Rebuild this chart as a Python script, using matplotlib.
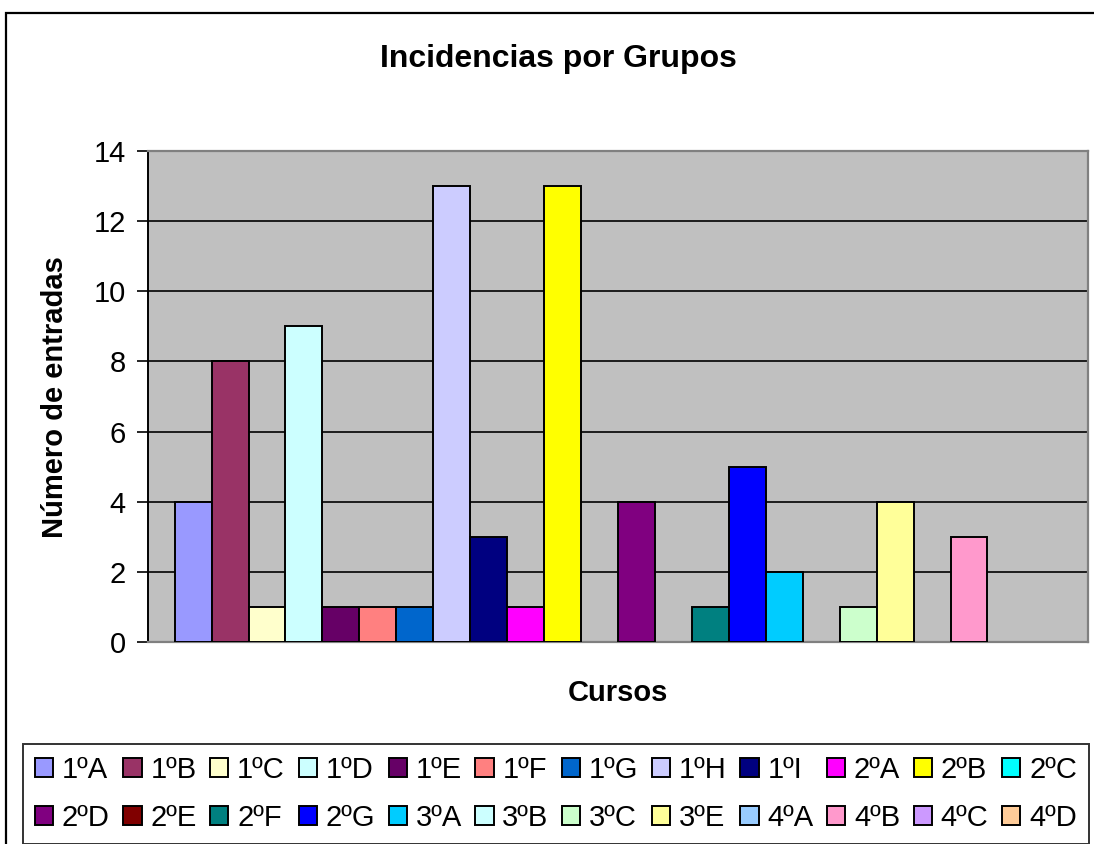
import matplotlib
matplotlib.use("Agg")
import matplotlib.pyplot as plt
from matplotlib.patches import Rectangle, Patch

plt.rcParams["font.family"] = ["Liberation Sans", "DejaVu Sans"]

# ---------- data ----------
GROUPS = ["1ºA", "1ºB", "1ºC", "1ºD", "1ºE", "1ºF", "1ºG", "1ºH", "1ºI", "2ºA", "2ºB", "2ºC",
          "2ºD", "2ºE", "2ºF", "2ºG", "3ºA", "3ºB", "3ºC", "3ºE", "4ºA", "4ºB", "4ºC", "4ºD"]
VALUES = [4, 8, 1, 9, 1, 1, 1, 13, 3, 1, 13, 0,
          4, 0, 1, 5, 2, 0, 1, 4, 0, 3, 0, 0]
COLORS = ["#9999FF", "#993366", "#FFFFCC", "#CCFFFF", "#660066", "#FF8080", "#0066CC", "#CCCCFF",
          "#000080", "#FF00FF", "#FFFF00", "#00FFFF", "#800080", "#800000", "#008080", "#0000FF",
          "#00CCFF", "#CCFFFF", "#CCFFCC", "#FFFF99", "#99CCFF", "#FF99CC", "#CC99FF", "#FFCC99"]
YTICKS = [0, 2, 4, 6, 8, 10, 12, 14]

W, H = 1094, 844
FS = 21
fig = plt.figure(figsize=(W / 100, H / 100), dpi=100)

# chart area border (runs off right / bottom edge)
fig.patches.append(Rectangle((6 / W, -0.05), 1.1, (H - 13) / H + 0.05,
                             transform=fig.transFigure, fill=False,
                             edgecolor="black", lw=1.6, zorder=0))

# plot area
x0, x1, y0, y1 = 148, 1088, 642, 151
ax = fig.add_axes([x0 / W, 1 - y0 / H, (x1 - x0) / W, (y0 - y1) / H])
ax.set_facecolor("#C0C0C0")

xs = list(range(len(GROUPS)))
for x, v, c, g in zip(xs, VALUES, COLORS, GROUPS):
    ax.bar(x, v, width=1.0, color=c, edgecolor="black",
           lw=1.4 if v > 0 else 0, zorder=3, label=g)

ax.set_xlim(-1.22, len(GROUPS) - 1 + 1.22)
ax.set_ylim(0, 14)
ax.set_yticks(YTICKS)
ax.set_xticks([])
ax.yaxis.grid(True, color="black", lw=1.2, zorder=1)
ax.set_axisbelow(True)
ax.tick_params(axis="y", direction="out", length=8, width=1.2, labelsize=FS, pad=8)

for s in ["top", "right", "bottom"]:
    ax.spines[s].set_color("#808080")
    ax.spines[s].set_linewidth(1.6)
ax.spines["left"].set_color("black")
ax.spines["left"].set_linewidth(1.4)

fig.text(558 / W, 1 - 59 / H, "Incidencias por Grupos", ha="center", va="center",
         fontsize=23, fontweight="bold")
fig.text(55 / W, 1 - 397 / H, "Número de entradas", ha="center", va="center",
         rotation=90, fontsize=FS, fontweight="bold")
fig.text(618 / W, 1 - 693 / H, "Cursos", ha="center", va="center",
         fontsize=FS, fontweight="bold")

# legend filled row by row: 2 rows x 12 columns
NCOL = 12
order = [r * NCOL + c for c in range(NCOL) for r in range(2)]
handles = [Patch(facecolor=COLORS[i], edgecolor="black", lw=1.4) for i in order]
labels = [GROUPS[i] for i in order]
leg = fig.legend(handles, labels, ncol=NCOL, loc="center",
                 bbox_to_anchor=(556 / W, 1 - 794 / H), fontsize=FS,
                 frameon=True, fancybox=False, edgecolor="black",
                 handlelength=0.62, handleheight=0.62, handletextpad=0.3,
                 columnspacing=0.47, borderpad=0.4, labelspacing=0.68,
                 borderaxespad=0)
leg.get_frame().set_linewidth(1.4)

fig.savefig("out.png", dpi=100)
